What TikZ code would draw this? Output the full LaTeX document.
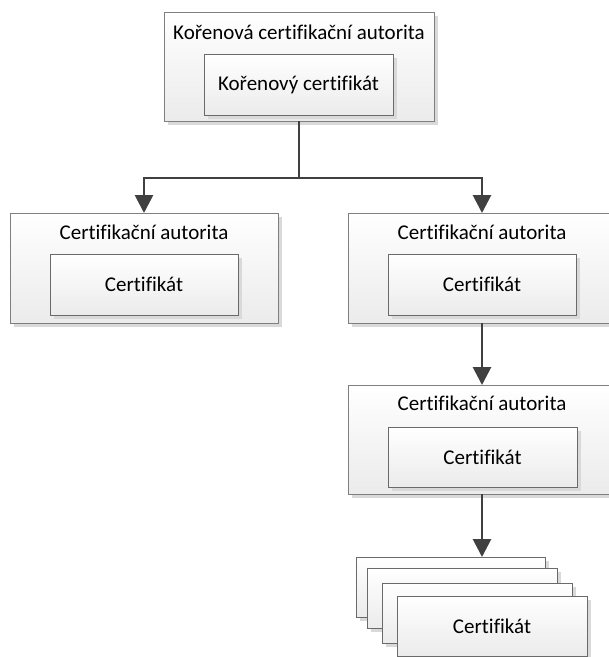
\documentclass[tikz,border=0pt]{standalone}
\usepackage{fontspec}
\setmainfont[Ligatures=NoCommon]{Carlito}
\usetikzlibrary{arrows.meta,shadows}
\definecolor{linkgray}{HTML}{404040}
\definecolor{framegray}{HTML}{7F7F7F}
\definecolor{innergray}{HTML}{6A6A6A}
\definecolor{shadowgray}{HTML}{D9D9D9}
\definecolor{fillbottom}{HTML}{EBEBEB}
\tikzset{
  panel/.style={draw=framegray, line width=0.9pt, top color=white, bottom color=fillbottom,
    inner sep=0pt, outer sep=0pt,
    drop shadow={shadow xshift=4pt, shadow yshift=-4pt, fill=shadowgray, opacity=1}},
  outerbox/.style={panel, minimum width=268pt, minimum height=110pt},
  innerbox/.style={panel, draw=innergray, minimum width=189pt, minimum height=61pt,
    font=\fontsize{21}{25}\selectfont},
  caption/.style={font=\fontsize{21}{25}\selectfont, inner sep=0pt},
  link/.style={draw=linkgray, line width=2.8pt},
  flow/.style={link, -{Triangle[length=18pt,width=18pt]}},
}
\begin{document}
\begin{tikzpicture}[x=1pt,y=-1pt]
\useasboundingbox (0,0) rectangle (609,657);
\clip (0,0) rectangle (609,657);

% root authority
\node[outerbox, minimum width=270pt, minimum height=109pt] (root) at (299,66.5) {};
\node[caption] (roott) at (299,32) {Kořenová certifikační autorita};
\node[innerbox] (rootc) at (298.5,84.5) {Kořenový certifikát};

% first level authorities
\node[outerbox] (ca1) at (144,268) {};
\node[caption] (ca1t) at (144,232) {Certifikační autorita};
\node[innerbox, minimum width=188pt] (ca1c) at (144,284.5) {Certifikát};

\node[outerbox] (ca2) at (482,268) {};
\node[caption] (ca2t) at (482,232) {Certifikační autorita};
\node[innerbox, minimum width=188pt] (ca2c) at (482,284.5) {Certifikát};

% second level authority
\node[outerbox, minimum height=109pt] (ca3) at (482,439.5) {};
\node[caption] (ca3t) at (482,403) {Certifikační autorita};
\node[innerbox, minimum height=60pt] (ca3c) at (482.5,457) {Certifikát};

% stack of issued certificates
\node[innerbox, minimum width=189pt, minimum height=60pt] (s1) at (450.5,587) {};
\node[innerbox, minimum width=190pt, minimum height=60pt] (s2) at (462,598) {};
\node[innerbox, minimum width=190pt, minimum height=60pt] (s3) at (477,613) {};
\node[innerbox, minimum width=190pt, minimum height=60pt] (s4) at (492,626) {Certifikát};

% connectors
\coordinate (split) at (299,178);
\draw[link] (root.south) -- (split);
\draw[flow] (split) -| (ca1.north);
\draw[flow] (split) -| (ca2.north);
\draw[flow] (ca2.south) -- (ca3.north);
\draw[flow] (ca3.south) -- (ca3.south |- s1.north);
\end{tikzpicture}
\end{document}
